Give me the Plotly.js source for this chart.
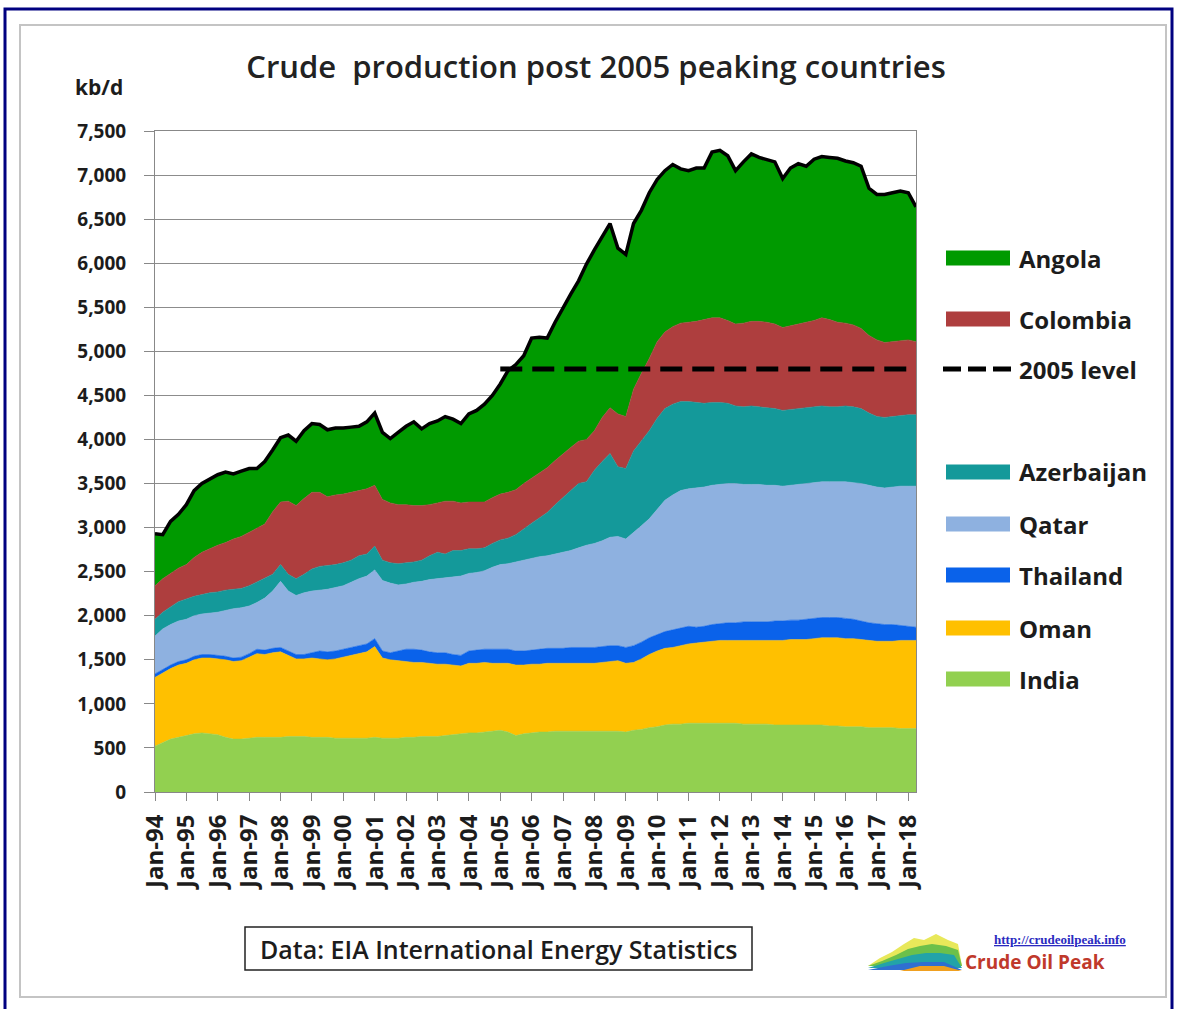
<!DOCTYPE html>
<html>
<head>
<meta charset="utf-8">
<script src="https://cdn.plot.ly/plotly-3.0.1.min.js"></script>
<style>html,body{margin:0;padding:0;background:#fff;}#chart{width:1182px;height:1009px;}</style>
</head>
<body>
<div id="chart"></div>
<script>
// ---------------- DATA (kb/d, quarterly readings Jan/Apr/Jul/Oct, Jan-94 .. Apr-18) ----------------
const countries = ['India', 'Oman', 'Thailand', 'Qatar', 'Azerbaijan', 'Colombia', 'Angola'];
const legendOrder = ['Angola', 'Colombia', '2005 level', 'Azerbaijan', 'Qatar', 'Thailand', 'Oman', 'India'];

const india = [
  520,560,600,620, 640,660,670,660, 650,620,600,600, 610,620,620,620, 620,630,630,630,
  620,620,620,610, 610,610,610,610, 620,610,610,610, 620,620,630,630, 630,640,650,660,
  670,670,680,690, 700,680,640,660, 670,680,680,690, 690,690,690,690, 690,690,690,690,
  680,700,710,730, 740,760,770,770, 780,780,780,780, 780,780,780,770, 770,770,770,760,
  760,760,760,760, 760,760,750,750, 740,740,740,730, 730,730,730,720, 720,720];
const oman = [
  780,790,800,820, 820,840,850,860, 860,880,880,890, 920,950,940,960, 970,920,880,880,
  900,890,880,900, 920,940,960,980, 1030,910,890,880, 860,850,840,830, 820,810,790,770,
  790,790,790,770, 760,780,800,780, 780,770,780,770, 770,770,770,770, 770,780,790,800,
  780,770,800,830, 860,870,870,890, 900,910,920,930, 940,940,940,950, 950,950,950,960,
  960,970,970,970, 980,990,1000,1000, 1000,1000,990,990, 980,980,980,1000, 1000,1000];
const thailand = [
  40,40,40,40, 40,40,40,40, 40,40,40,40, 40,50,50,50, 50,50,50,50,
  60,90,90,90, 90,90,90,90, 90,80,80,110, 140,150,140,130, 130,130,120,120,
  140,150,150,160, 160,160,160,160, 160,170,170,170, 170,180,180,180, 180,180,180,170,
  180,190,190,190, 190,190,200,200, 200,180,180,190, 190,200,200,210, 210,210,210,220,
  220,220,220,230, 230,230,230,230, 230,220,210,200, 200,190,190,170, 160,150];
const qatar = [
  430,460,460,460, 460,460,460,470, 490,520,560,560, 540,530,590,650, 750,680,670,700,
  700,690,710,720, 720,740,760,770, 780,800,790,750, 740,760,780,820, 840,850,880,900,
  880,880,890,930, 960,970,1010,1030, 1040,1050,1050,1070, 1090,1100,1130,1160, 1180,1200,1230,1240,
  1230,1280,1320,1350, 1420,1490,1530,1560, 1560,1580,1580,1580, 1580,1580,1580,1560, 1560,1560,1550,1540,
  1530,1530,1540,1540, 1540,1540,1540,1540, 1550,1550,1560,1560, 1550,1550,1560,1580, 1590,1600];
const azerbaijan = [
  190,190,200,220, 230,220,220,230, 230,230,220,220, 230,230,220,190, 190,190,190,210,
  250,270,270,260, 260,250,260,250, 270,230,230,240, 240,230,240,270, 300,270,300,290,
  280,270,260,270, 280,290,310,350, 400,440,490,560, 620,680,730,720, 830,900,950,790,
  800,930,970,1000, 1030,1040,1030,1010, 990,970,950,940, 930,910,880,880, 890,880,880,870,
  860,860,860,860, 860,860,850,850, 860,860,850,820, 800,800,800,800, 810,810];
const colombia = [
  380,380,380,380, 390,440,480,500, 530,540,570,590, 610,610,620,710, 710,830,830,860,
  870,840,780,790, 780,770,740,740, 690,690,680,670, 660,640,620,580, 560,600,560,540,
  530,530,520,520, 520,520,510,520, 510,510,510,500, 500,490,480,480, 450,500,520,600,
  590,700,760,820, 870,870,880,890, 900,920,950,960, 960,940,930,950, 960,970,970,960,
  940,950,960,970, 980,1000,990,960, 940,930,910,880, 870,850,850,850, 850,830];
const angola = [
  590,500,590,610, 680,760,780,790, 800,800,740,740, 720,680,710,700, 730,750,730,770,
  780,770,760,760, 750,740,730,760, 820,760,730,820, 890,950,870,920, 930,960,930,900,
  1000,1040,1110,1160, 1250,1380,1420,1450, 1590,1540,1470,1570, 1660,1740,1820,1990, 2050,2050,2090,1880,
  1840,1880,1850,1880, 1840,1830,1840,1750, 1720,1740,1720,1880, 1900,1870,1740,1830, 1900,1860,1850,1840,
  1690,1790,1820,1770, 1830,1830,1840,1860, 1840,1840,1840,1670, 1650,1680,1690,1700, 1670,1530];

const level2005 = 4800;           // "2005 level" reference line (kb/d)
const levelStart = '2005-01-01';

const yTickVals = [0,500,1000,1500,2000,2500,3000,3500,4000,4500,5000,5500,6000,6500,7000,7500];

// category axis: quarterly dates Jan-94 .. Apr-18
const quarters = [];
for (let y = 1994; y <= 2018; y++) {
  for (const m of ['01','04','07','10']) {
    if (y === 2018 && m > '04') break;
    quarters.push(y + '-' + m + '-01');
  }
}
const seriesValues = [india, oman, thailand, qatar, azerbaijan, colombia, angola];
const total = quarters.map((_, i) => seriesValues.reduce((s, arr) => s + arr[i], 0));

// ---------------- STYLE ----------------
const fillColors = {
  India: '#92D050', Oman: '#FFC000', Thailand: '#0A62EA', Qatar: '#8EB1E0',
  Azerbaijan: '#14999A', Colombia: '#AE3E3E', Angola: '#009A00'
};
const FONT = '"Open Sans", "Liberation Sans", sans-serif';
const TXT = '#1c1c1c';

// plot-area pixel box, used only to place decorations in paper coordinates
const PL = 155, PR = 916, PT = 131, PB = 792;
const px = x => (x - PL) / (PR - PL);
const py = y => (PB - y) / (PB - PT);

const traces = countries.map((c, i) => ({
  type: 'scatter', mode: 'lines', name: c, x: quarters, y: seriesValues[i],
  stackgroup: 'one', line: {width: 0.6, color: fillColors[c], shape: 'linear'},
  fillcolor: fillColors[c], hoverinfo: 'x+y+name'
}));
traces.push({
  type: 'scatter', mode: 'lines', name: 'Total', x: quarters, y: total,
  line: {color: '#000', width: 3.5}
});
traces.push({
  type: 'scatter', mode: 'lines', name: '2005 level',
  x: [levelStart, quarters[quarters.length - 1]], y: [level2005, level2005],
  line: {color: '#000', width: 5, dash: '22px,10px'}
});

// ---------------- DECORATIONS ----------------
const shapes = [];
const annotations = [];

// outer navy frame and inner grey frame
shapes.push({type: 'rect', xref: 'paper', yref: 'paper', x0: px(5), x1: px(1172), y0: py(1012), y1: py(9),
  line: {color: '#000080', width: 3}, layer: 'below'});
shapes.push({type: 'rect', xref: 'paper', yref: 'paper', x0: px(20), x1: px(1166), y0: py(997), y1: py(25),
  line: {color: '#c4c4c4', width: 2}, layer: 'below'});

// legend
const legendY = {Angola: 258, Colombia: 319, '2005 level': 369, Azerbaijan: 472, Qatar: 524, Thailand: 575, Oman: 628, India: 679};
legendOrder.forEach(name => {
  const yy = legendY[name];
  if (name === '2005 level') {
    shapes.push({type: 'line', xref: 'paper', yref: 'paper', x0: px(943), x1: px(1015), y0: py(yy), y1: py(yy),
      line: {color: '#000', width: 5, dash: '18px,7px'}});
  } else {
    shapes.push({type: 'rect', xref: 'paper', yref: 'paper', x0: px(946), x1: px(1010), y0: py(yy + 7.5), y1: py(yy - 7.5),
      line: {width: 0}, fillcolor: fillColors[name]});
  }
  annotations.push({xref: 'paper', yref: 'paper', x: px(1017), y: py(yy), text: name, showarrow: false,
    xanchor: 'left', yanchor: 'middle', font: {family: FONT, size: 24, color: TXT, weight: 'bold'}});
});

// y-axis unit
annotations.push({xref: 'paper', yref: 'paper', x: px(99), y: py(87), text: 'kb/d', showarrow: false,
  xanchor: 'center', yanchor: 'middle', font: {family: FONT, size: 21, color: TXT, weight: 'bold'}});

// source box
shapes.push({type: 'rect', xref: 'paper', yref: 'paper', x0: px(245), x1: px(752), y0: py(970), y1: py(927),
  line: {color: '#222', width: 1.5}, fillcolor: '#fff'});
annotations.push({xref: 'paper', yref: 'paper', x: px(498.5), y: py(949), text: 'Data: EIA International Energy Statistics',
  showarrow: false, xanchor: 'center', yanchor: 'middle', font: {family: FONT, size: 25, color: TXT, weight: 600}});

// crudeoilpeak logo
const P = pts => 'M ' + pts.map(p => px(p[0]) + ' ' + py(p[1])).join(' L ') + ' Z';
shapes.push({type: 'path', xref: 'paper', yref: 'paper', path: P([[868,966],[880,958],[892,952],[904,944],[914,938],[924,940],[936,934],[948,940],[958,944],[962,966]]), fillcolor: '#e8e85a', line: {width: 0}});
shapes.push({type: 'path', xref: 'paper', yref: 'paper', path: P([[868,966],[882,961],[896,955],[908,949],[920,946],[932,944],[946,946],[958,950],[962,966]]), fillcolor: '#6cc04a', line: {width: 0}});
shapes.push({type: 'path', xref: 'paper', yref: 'paper', path: P([[868,968],[884,963],[898,959],[912,955],[926,953],[940,953],[954,955],[962,968]]), fillcolor: '#22a3a8', line: {width: 0}});
shapes.push({type: 'path', xref: 'paper', yref: 'paper', path: P([[868,970],[888,966],[906,963],[924,962],[944,962],[962,970]]), fillcolor: '#2f6fd0', line: {width: 0}});
shapes.push({type: 'path', xref: 'paper', yref: 'paper', path: P([[900,971],[920,966],[944,966],[962,971]]), fillcolor: '#f0a020', line: {width: 0}});
annotations.push({xref: 'paper', yref: 'paper', x: px(1060), y: py(939), text: '<u>http://crudeoilpeak.info</u>',
  showarrow: false, xanchor: 'center', yanchor: 'middle', font: {family: '"Liberation Serif", serif', size: 13, color: '#2a2ac0', weight: 'bold'}});
annotations.push({xref: 'paper', yref: 'paper', x: px(963), y: py(962), text: 'Crude Oil Peak',
  showarrow: false, xanchor: 'left', yanchor: 'middle', font: {family: FONT, size: 19, color: '#c0392b', weight: 'bold'}});

// ---------------- LAYOUT ----------------
const layout = {
  width: 1182, height: 1009,
  margin: {l: PL, r: 1182 - PR, t: PT, b: 1009 - PB, pad: 0},
  paper_bgcolor: '#fff', plot_bgcolor: '#fff',
  showlegend: false,
  title: {text: 'Crude  production post 2005 peaking countries', xref: 'paper', x: px(596), xanchor: 'center',
    yref: 'container', y: 1 - 67 / 1009, yanchor: 'middle',
    font: {family: FONT, size: 31, color: '#222', weight: 600}},
  xaxis: {
    type: 'date', range: [quarters[0], quarters[quarters.length - 1]],
    tick0: '1994-01-01', dtick: 'M12', tickformat: '%b-%y', tickangle: -90,
    ticks: 'outside', ticklen: 8, tickcolor: '#888', tickwidth: 1,
    showline: true, linecolor: '#888', linewidth: 1, mirror: true,
    showgrid: false, zeroline: false, ticklabelstandoff: 4,
    tickfont: {family: FONT, size: 24, color: TXT, weight: 'bold'}
  },
  yaxis: {
    range: [0, 7500], tickvals: yTickVals, tickformat: ',d',
    ticks: 'outside', ticklen: 10, tickcolor: '#888', tickwidth: 1,
    showline: true, linecolor: '#888', linewidth: 1, mirror: true,
    showgrid: true, gridcolor: '#8c8c8c', gridwidth: 1, zeroline: false,
    ticklabelstandoff: 14,
    tickfont: {family: FONT, size: 19, color: TXT, weight: 'bold'}
  },
  shapes: shapes,
  annotations: annotations
};

Plotly.newPlot('chart', traces, layout, {displayModeBar: false, staticPlot: true});
</script>
</body>
</html>
